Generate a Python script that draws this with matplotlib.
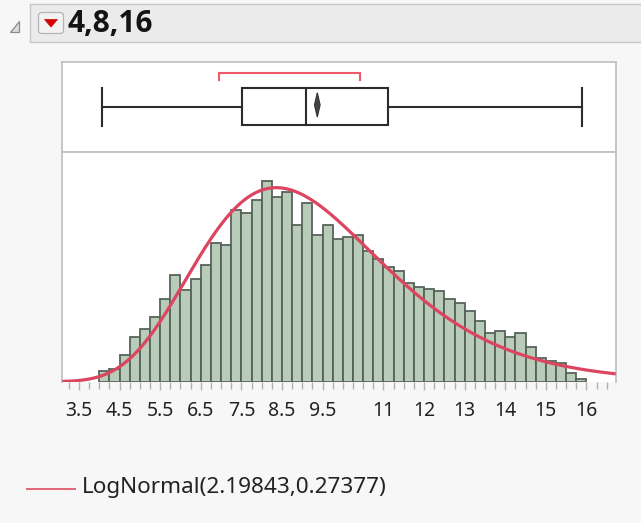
import numpy as np
import matplotlib
matplotlib.use("Agg")
import matplotlib.pyplot as plt
from matplotlib.patches import Polygon, FancyBboxPatch, Rectangle
from matplotlib.lines import Line2D

# ---------------- data ----------------
title = "4,8,16"
bin_start = 4.0
bin_width = 0.25
counts = [11, 13, 27, 45, 53, 65, 83, 107, 92, 103,
          117, 139, 137, 172, 169, 182, 201, 185, 190, 157,
          179, 147, 157, 143, 145, 147, 131, 123, 115, 111,
          99, 95, 93, 91, 83, 79, 71, 61, 49, 51,
          45, 49, 35, 24, 21, 19, 9, 3]
tick_values = [3.5, 4.5, 5.5, 6.5, 7.5, 8.5, 9.5, 11, 12, 13, 14, 15, 16]
tick_labels = ["3.5", "4.5", "5.5", "6.5", "7.5", "8.5", "9.5", "11", "12", "13", "14", "15", "16"]
lognorm_mu = 2.19843
lognorm_sigma = 0.27377
legend_label = "LogNormal(2.19843,0.27377)"
# box plot summary
whisker_lo, q1, median, q3, whisker_hi = 4.06, 7.51, 9.08, 11.12, 15.89
mean_val, mean_ci_half = 9.37, 0.07
shortest_half = (6.96, 10.43)

# ---------------- layout helpers ----------------
W, H = 641, 523
fig = plt.figure(figsize=(W / 100, H / 100), dpi=100, facecolor="#f7f7f7")
plt.rcParams["font.family"] = ["Noto Sans", "DejaVu Sans"]

def fx(x):
    return x / W

def fy(y):
    return 1 - y / H

XL, XR = 3.089, 16.72
frame_col = "#c2c2c2"

# header
hdr = Rectangle((fx(29.5), fy(42.5)), fx(W + 5) - fx(29.5), fy(4.5) - fy(42.5),
                transform=fig.transFigure, facecolor="#ebebeb", edgecolor="#c6c6c6", lw=1.0)
fig.patches.append(hdr)
tri = Polygon([(fx(9.5), fy(31.5)), (fx(18.5), fy(31.5)), (fx(18.5), fy(21))], closed=True,
              transform=fig.transFigure, facecolor="#dcdcdc", edgecolor="#8a8a8a", lw=0.9)
fig.patches.append(tri)
btn = FancyBboxPatch((fx(38.5), fy(33.5)), fx(63.5) - fx(38.5), fy(12.5) - fy(33.5),
                     boxstyle="round,pad=0,rounding_size=0.006", transform=fig.transFigure,
                     facecolor="#f2f2f2", edgecolor="#b4b4b4", lw=0.9)
fig.patches.append(btn)
arrow = Polygon([(fx(44.5), fy(19.5)), (fx(57.5), fy(19.5)), (fx(51), fy(27))], closed=True,
                transform=fig.transFigure, facecolor="#d40000", edgecolor="#d40000", lw=0.5)
fig.patches.append(arrow)
fig.text(fx(67.5), fy(23.5), title, fontsize=21.5, fontweight="bold", color="#141414",
         ha="left", va="center", family=["Open Sans", "DejaVu Sans"])

# ---------------- box plot axis ----------------
axb = fig.add_axes([fx(62.3), fy(151.7), fx(615.7) - fx(62.3), fy(61.7) - fy(151.7)])
axb.set_facecolor("white")
axb.set_xlim(XL, XR)
axb.set_ylim(0, 1)
axb.set_xticks([])
axb.set_yticks([])
for s in axb.spines.values():
    s.set_color(frame_col)
    s.set_linewidth(1.3)
bc = "#2b2b2b"
lw_box = 1.5
axb.plot([whisker_lo, q1], [0.5, 0.5], color=bc, lw=lw_box)
axb.plot([q3, whisker_hi], [0.5, 0.5], color=bc, lw=lw_box)
axb.plot([whisker_lo, whisker_lo], [0.285, 0.71], color=bc, lw=lw_box)
axb.plot([whisker_hi, whisker_hi], [0.285, 0.71], color=bc, lw=lw_box)
axb.add_patch(Rectangle((q1, 0.297), q3 - q1, 0.704 - 0.297, facecolor="white", edgecolor=bc, lw=lw_box))
axb.plot([median, median], [0.297, 0.704], color=bc, lw=lw_box)
axb.add_patch(Polygon([(mean_val, 0.655), (mean_val + mean_ci_half, 0.52), (mean_val, 0.385),
                       (mean_val - mean_ci_half, 0.52)], closed=True, facecolor="#444444",
                      edgecolor="#333333", lw=0.8))
axb.plot([shortest_half[0], shortest_half[0], shortest_half[1], shortest_half[1]],
         [0.80, 0.878, 0.878, 0.80], color="#ee5a6b", lw=1.5, solid_joinstyle="miter")

# ---------------- histogram axis ----------------
axh = fig.add_axes([fx(62.3), fy(381.7), fx(615.7) - fx(62.3), fy(151.7) - fy(381.7)])
axh.set_facecolor("white")
edges = bin_start + bin_width * np.arange(len(counts))
axh.bar(edges, counts, width=bin_width, align="edge", color="#b9cbb9",
        edgecolor="#56635a", linewidth=1.3, zorder=2)
N = float(np.sum(counts))
xs = np.linspace(XL, XR, 600)
pdf = np.exp(-(np.log(xs) - lognorm_mu) ** 2 / (2 * lognorm_sigma ** 2)) / (xs * lognorm_sigma * np.sqrt(2 * np.pi))
curve, = axh.plot(xs, N * bin_width * pdf, color="#dc4560", lw=2.3, zorder=3, solid_capstyle="butt")
axh.set_xlim(XL, XR)
axh.set_ylim(0, 230)
axh.set_yticks([])
for s in axh.spines.values():
    s.set_color(frame_col)
    s.set_linewidth(1.3)
axh.spines["bottom"].set_visible(False)
axh.set_xticks(tick_values)
axh.set_xticklabels(tick_labels)
axh.set_xticks(np.arange(3.25, 16.51, 0.25), minor=True)
axh.tick_params(axis="x", which="major", length=6, width=1.0, color="#b0b0b0",
                labelsize=14, labelcolor="#222222", pad=8)
axh.tick_params(axis="x", which="minor", length=5, width=1.0, color="#b0b0b0")

# ---------------- legend ----------------
fig.add_artist(Line2D([fx(27), fx(75)], [fy(488.7), fy(488.7)], transform=fig.transFigure,
                      color="#e46478", lw=1.4))
fig.text(fx(82), fy(488), legend_label, fontsize=16.2, color="#222222", ha="left", va="center")

fig.savefig("out.png", dpi=100, facecolor=fig.get_facecolor())
